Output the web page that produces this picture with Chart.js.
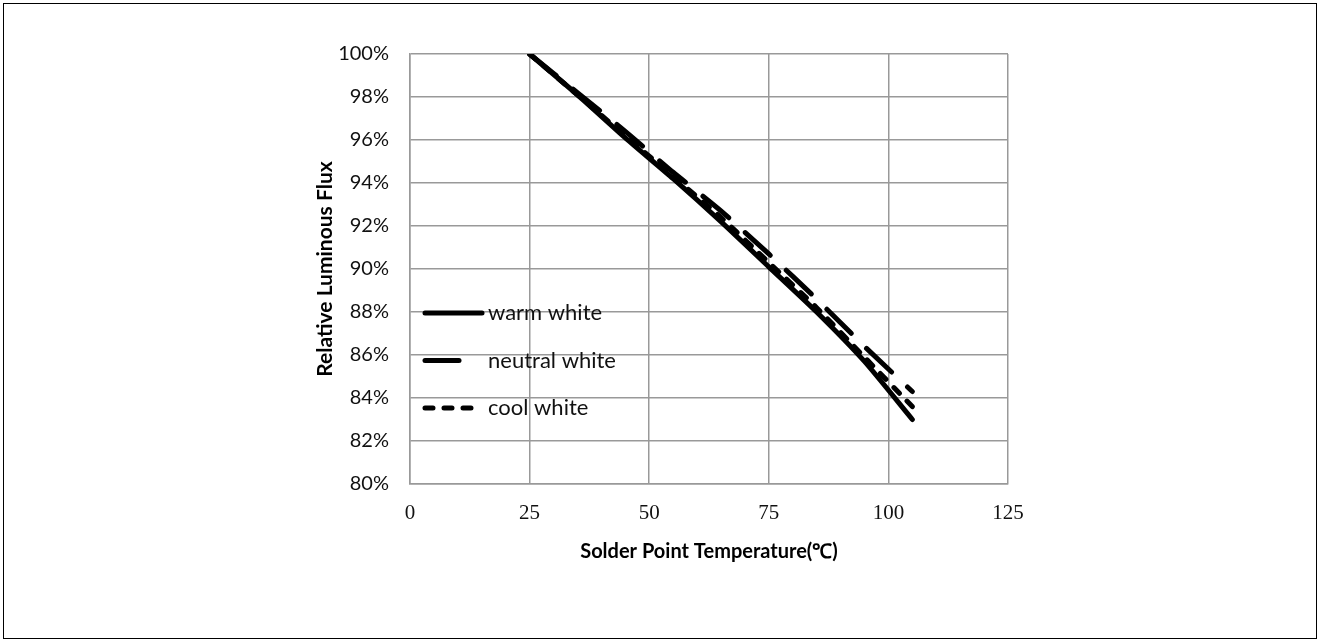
<!DOCTYPE html>
<html>
<head>
<meta charset="utf-8">
<script src="https://cdn.jsdelivr.net/npm/chart.js@4.4.1/dist/chart.umd.min.js"></script>
<style>
    html, body { margin: 0; padding: 0; background: #fff; }
    #wrap { position: relative; width: 1320px; height: 642px; }
    #wrap canvas { position: absolute; left: 0; top: 0; }
    #frame {
        position: absolute; left: 3px; top: 3px; width: 1314px; height: 636px;
        border: 1.5px solid #000; box-sizing: border-box; pointer-events: none;
    }
</style>
</head>
<body>
<div id="wrap">
    <canvas id="chart" width="1320" height="642"></canvas>
    <div id="frame"></div>
</div>
<script>
// Data
const temps = [25, 35, 45, 55, 65, 75, 85, 95, 105];
const warmWhite = [100, 98.1, 96.1, 94.2, 92.2, 90.1, 88.0, 85.7, 83.0];
const neutralWhite = [100, 98.2, 96.4, 94.5, 92.7, 90.7, 88.6, 86.4, 84.3];
const coolWhite = [100, 98.1, 96.2, 94.3, 92.4, 90.3, 88.2, 85.9, 83.6];
const seriesNames = ['warm white', 'neutral white', 'cool white'];
const xTicks = [0, 25, 50, 75, 100, 125];
const yTicks = [80, 82, 84, 86, 88, 90, 92, 94, 96, 98, 100];

const SANS = "Lato, 'Liberation Sans', sans-serif";
const SERIF = "'Liberation Serif', 'DejaVu Serif', serif";
const GRID = '#999999';

const toPoints = values => temps.map((t, i) => ({ x: t, y: values[i] }));

const dashes = [[], [34, 22], [8, 11]];
const legendLengths = [57, 34, 46];

// Legend drawn inside the plot area, left side
const innerLegend = {
    id: 'innerLegend',
    afterDatasetsDraw(chart) {
        const { ctx, chartArea } = chart;
        ctx.save();
        chart.data.datasets.forEach((ds, i) => {
            const y = chartArea.top + 259 + i * 47.5;
            const x = chartArea.left + 15;
            ctx.strokeStyle = '#000';
            ctx.lineWidth = 5;
            ctx.lineCap = 'round';
            ctx.setLineDash(dashes[i]);
            ctx.beginPath();
            ctx.moveTo(x, y);
            ctx.lineTo(x + legendLengths[i], y);
            ctx.stroke();
            ctx.setLineDash([]);
            ctx.fillStyle = '#111';
            ctx.font = '22px ' + SANS;
            ctx.textBaseline = 'middle';
            ctx.textAlign = 'left';
            ctx.fillText(ds.label, chartArea.left + 78, y);
        });
        ctx.restore();
    }
};

new Chart(document.getElementById('chart'), {
    type: 'line',
    data: {
        datasets: [warmWhite, neutralWhite, coolWhite].map((vals, i) => ({
            label: seriesNames[i],
            data: toPoints(vals),
            borderColor: '#000',
            borderWidth: 5,
            borderDash: dashes[i],
            borderCapStyle: 'round',
            pointRadius: 0,
            tension: 0.2,
            fill: false
        }))
    },
    options: {
        responsive: false,
        animation: false,
        layout: { padding: { top: 54, right: 312, left: 313, bottom: 78 } },
        plugins: {
            legend: { display: false },
            tooltip: { enabled: false }
        },
        scales: {
            x: {
                type: 'linear',
                min: xTicks[0],
                max: xTicks[xTicks.length - 1],
                afterBuildTicks: axis => { axis.ticks = xTicks.map(v => ({ value: v })); },
                afterFit: axis => { axis.height = 80; },
                grid: { color: GRID, lineWidth: 1.5, drawTicks: false },
                border: { color: GRID, width: 1.5 },
                ticks: {
                    color: '#111',
                    padding: 17,
                    font: { family: SERIF, size: 21 }
                },
                title: {
                    display: true,
                    text: 'Solder Point Temperature(℃)',
                    color: '#000',
                    padding: 0,
                    font: { family: SANS, size: 20, weight: 'bold' }
                }
            },
            y: {
                min: yTicks[0],
                max: yTicks[yTicks.length - 1],
                afterBuildTicks: axis => { axis.ticks = yTicks.map(v => ({ value: v })); },
                afterFit: axis => { axis.width = 97; },
                grid: { color: GRID, lineWidth: 1.5, drawTicks: false },
                border: { color: GRID, width: 1.5 },
                ticks: {
                    color: '#111',
                    padding: 21,
                    font: { family: SANS, size: 20 },
                    callback: v => v + '%'
                },
                title: {
                    display: true,
                    text: 'Relative Luminous Flux',
                    color: '#000',
                    padding: 0,
                    font: { family: SANS, size: 21, weight: 'bold' }
                }
            }
        }
    },
    plugins: [innerLegend]
});
</script>
</body>
</html>
